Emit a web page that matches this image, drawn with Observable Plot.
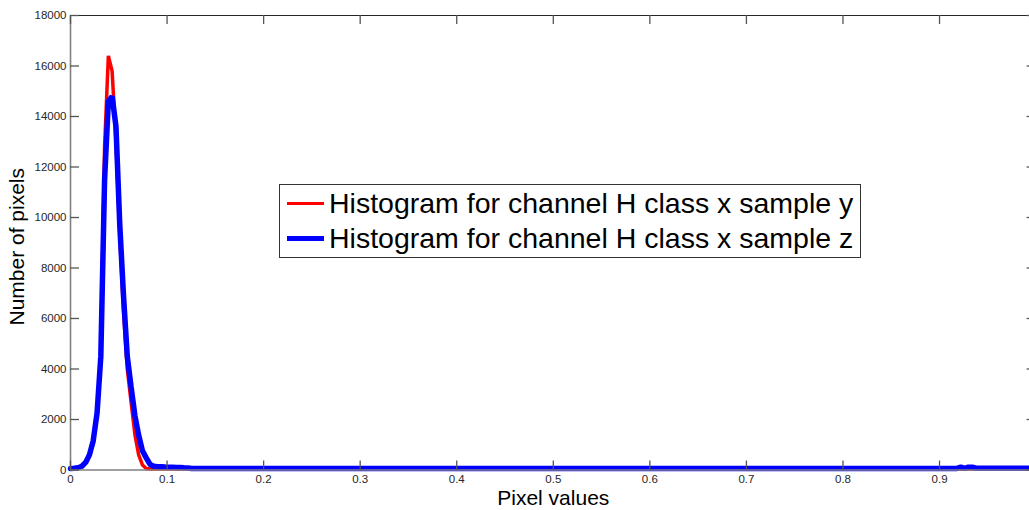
<!DOCTYPE html>
<html><head><meta charset="utf-8">
<script src="https://cdn.jsdelivr.net/npm/d3@7"></script>
<script src="https://cdn.jsdelivr.net/npm/@observablehq/plot@0.6"></script>
<style>
html,body{margin:0;padding:0;background:#fff;overflow:hidden}
#wrap{position:relative;width:1029px;height:510px;overflow:hidden;background:#fff}
#wrap svg{display:block}
#legend{position:absolute;left:279px;top:184px;width:582px;height:74px;border:1px solid #333;background:#fff;
 font-family:"Liberation Sans",Arial,sans-serif;font-size:28.5px;color:#000;box-sizing:border-box}
.row{position:absolute;left:0;height:30px;display:flex;align-items:center;white-space:nowrap}
.sw{display:inline-block;width:37px;margin-left:7px;margin-right:5px}
</style></head><body>
<div id="wrap"><div id="legend">
 <div class="row" style="top:3px"><span class="sw" style="height:3px;background:#ff0000"></span><span>Histogram for channel H class x sample y</span></div>
 <div class="row" style="top:38px"><span class="sw" style="height:5px;background:#0000ff"></span><span>Histogram for channel H class x sample z</span></div>
</div></div>
<script>
// Bin centres of the peak region (imhist, 256 bins on [0,1])
const binX = [0, 0.0039, 0.0078, 0.0118, 0.0157, 0.0196, 0.0235, 0.0275, 0.0314, 0.0353, 0.0392, 0.0431, 0.0471, 0.0510, 0.0549, 0.0588, 0.0627, 0.0667, 0.0706, 0.0745, 0.0784, 0.0824, 0.0863, 0.0902, 0.0941, 0.0980, 0.1020, 0.1059, 0.1098, 0.1137, 0.1176, 0.1216, 0.1255];
const redY  = [40, 50, 70, 130, 280, 580, 1100, 2200, 4500, 12800, 16400, 15800, 13000, 9300, 6300, 4000, 2700, 1400, 600, 200, 60, 40, 40, 40, 40, 40, 40, 40, 40, 40, 40, 40, 40];
const blueY = [60, 70, 90, 150, 300, 600, 1150, 2250, 4500, 11500, 14600, 14800, 13600, 9730, 6900, 4500, 3300, 2150, 1380, 760, 480, 220, 150, 130, 130, 120, 110, 110, 100, 100, 90, 80, 60];
// Flat tail of the histograms
const tailX     = [0.15, 0.3, 0.5, 0.7, 0.9, 0.918, 0.922, 0.926, 0.930, 0.934, 0.938, 0.95, 1.0];
const redTailY  = [40, 40, 40, 40, 40, 40, 40, 40, 40, 40, 40, 40, 40];
const blueTailY = [60, 60, 60, 60, 60, 60, 110, 60, 110, 110, 70, 70, 70];

const xTicks = [0, 0.1, 0.2, 0.3, 0.4, 0.5, 0.6, 0.7, 0.8, 0.9];
const yTicks = [0, 2000, 4000, 6000, 8000, 10000, 12000, 14000, 16000, 18000];

const red  = binX.concat(tailX).map((x, i) => ({x, y: redY.concat(redTailY)[i]}));
const blue = binX.concat(tailX).map((x, i) => ({x, y: blueY.concat(blueTailY)[i]}));

const W = 1029, H = 510, mL = 70, mR = -6.6, mT = 15, mB = 40.5;
const fw = W - mL - mR, fh = H - mT - mB, tick = 9;

const chart = Plot.plot({
  width: W, height: H,
  marginLeft: mL, marginRight: mR, marginTop: mT, marginBottom: mB,
  x: {domain: [0, 1], range: [mL, W - mR]},
  y: {domain: [0, 18000], range: [H - mB, mT]},
  style: {fontFamily: "'Liberation Sans', Arial, sans-serif", background: "#fff", color: "#262626"},
  marks: [
    Plot.line(red, {x: "x", y: "y", stroke: "#ff0000", strokeWidth: 3.5, strokeLinejoin: "miter"}),
    Plot.line(blue, {x: "x", y: "y", stroke: "#0000ff", strokeWidth: 5.5, strokeLinejoin: "miter"}),
    Plot.ruleY([18000], {stroke: "#262626", strokeWidth: 1}),
    Plot.ruleY([0], {stroke: "#808080", strokeWidth: 1.6}),
    Plot.ruleX([0], {stroke: "#808080", strokeWidth: 1.6}),
    Plot.tickY(yTicks, {insetRight: fw - tick, stroke: "#555", strokeWidth: 1.3}),
    Plot.tickY(yTicks, {insetLeft: fw - tick, stroke: "#555", strokeWidth: 1.3}),
    Plot.tickX(xTicks, {insetTop: fh - tick, stroke: "#555", strokeWidth: 1.3}),
    Plot.tickX(xTicks, {insetBottom: fh - tick, stroke: "#555", strokeWidth: 1.3}),
    Plot.axisY({ticks: yTicks, tickSize: 0, tickPadding: 4, fontSize: 11.5, label: null, tickFormat: d => String(d)}),
    Plot.axisX({ticks: xTicks, tickSize: 0, tickPadding: 5, fontSize: 11.5, label: null, tickFormat: d => String(d)}),
    Plot.text(["Pixel values"], {frameAnchor: "bottom", lineAnchor: "middle", textAnchor: "middle", dy: 28, fontSize: 21, fill: "#000"}),
    Plot.text(["Number of pixels"], {frameAnchor: "left", lineAnchor: "middle", textAnchor: "middle", dx: -53, dy: 4, rotate: -90, fontSize: 21, fill: "#000"})
  ]
});
document.getElementById("wrap").prepend(chart);
</script>
</body></html>
